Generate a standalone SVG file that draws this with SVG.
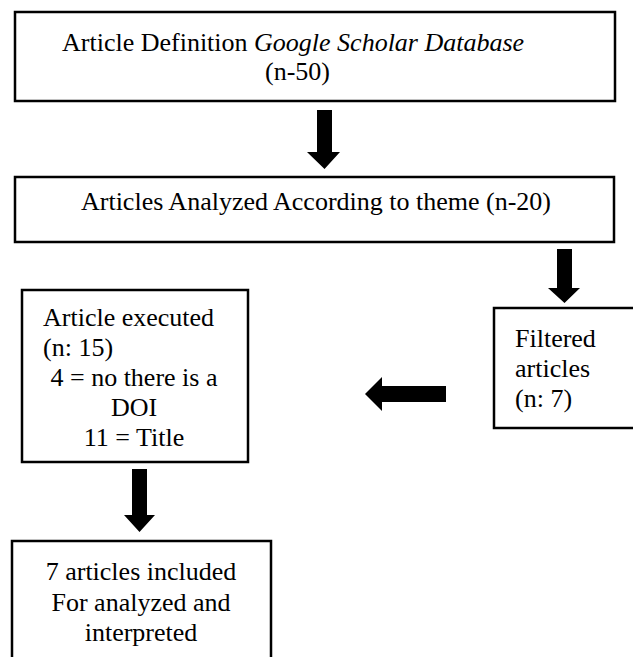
<svg xmlns="http://www.w3.org/2000/svg" width="633" height="657" viewBox="0 0 633 657">
<style>
.box{fill:#fff;stroke:#000;stroke-width:2.5}
text{font-family:"Liberation Serif","Times New Roman",serif;font-size:26px;fill:#000}
.c{text-anchor:middle}
.arr{fill:#000}
</style>
<rect width="633" height="657" fill="#fff"/>
<g id="connectors">
<polygon class="arr" points="317,110 332,110 332,152 340,152 324.5,169 307,152 317,152"/>
<polygon class="arr" points="557,249 572,249 572,288 580,288 564.5,303 548,288 557,288"/>
<polygon class="arr" points="446,386 446,402 382,402 382,411 365,394 382,377 382,386"/>
<polygon class="arr" points="132,469 147,469 147,515 155,515 139.5,532 124,515 132,515"/>
</g>
<g id="node1">
<rect class="box" x="15" y="12" width="600" height="89"/>
<text x="62" y="51">Article Definition <tspan font-style="italic">Google Scholar Database</tspan></text>
<text x="265" y="80">(n-50)</text>
</g>
<g id="node2">
<rect class="box" x="15" y="177" width="599" height="65"/>
<text class="c" x="316" y="210">Articles Analyzed According to theme (n-20)</text>
</g>
<g id="node3">
<rect class="box" x="494" y="308" width="150" height="120"/>
<text x="515" y="347">Filtered</text>
<text x="515" y="377">articles</text>
<text x="515" y="407">(n: 7)</text>
</g>
<g id="node4">
<rect class="box" x="22" y="290" width="226" height="172"/>
<text x="43" y="326">Article executed</text>
<text x="43" y="356">(n: 15)</text>
<text class="c" x="134" y="386">4 = no there is a</text>
<text class="c" x="134" y="416">DOI</text>
<text class="c" x="134" y="446">11 = Title</text>
</g>
<g id="node5">
<rect class="box" x="12" y="541" width="259" height="130"/>
<text class="c" x="141" y="580">7 articles included</text>
<text class="c" x="141" y="611">For analyzed and</text>
<text class="c" x="141" y="641">interpreted</text>
</g>
</svg>
